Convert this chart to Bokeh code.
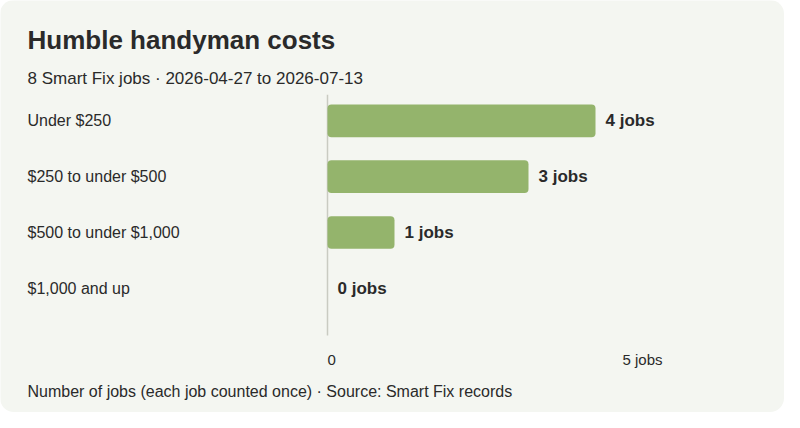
from bokeh.plotting import figure
from bokeh.models import Range1d, ColumnDataSource
from bokeh.core.properties import value
from bokeh.embed import file_html
from bokeh.resources import INLINE

# ---- data ----
categories = ["Under $250", "$250 to under $500", "$500 to under $1,000", "$1,000 and up"]
jobs = [4, 3, 1, 0]
value_labels = [f"{j} jobs" for j in jobs]
tick_values = [0, 5]
tick_labels = ["0", "5 jobs"]
title_text = "Humble handyman costs"
subtitle_text = "8 Smart Fix jobs \u00b7 2026-04-27 to 2026-07-13"
footer_text = "Number of jobs (each job counted once) \u00b7 Source: Smart Fix records"

# ---- layout (pixels in figure space) ----
W, H = 784, 412
SY = H / 428.0       # vertical compression to fit the window
X0_PX = 327          # pixel of value 0
PX_PER_JOB = 67
ROW0_PX = 125 * SY   # pixel (from top) of first category centre
ROW_PX = 58 * SY
LEFT_PX = 27

BG = "#f4f6f1"
BAR = "#94b46c"
INK = "#2a2a2a"
AXIS = "#c9cbc2"
FONT = "Liberation Sans"

def xd(px):
    return (px - X0_PX) / PX_PER_JOB

def yd(px_ref):
    return (px_ref * SY - ROW0_PX) / ROW_PX

p = figure(width=W, height=H, output_backend="svg", toolbar_location=None,
           x_range=Range1d(xd(0), xd(W)), y_range=Range1d(yd(428), yd(0)),
           min_border=0, min_border_left=0, min_border_right=0,
           min_border_top=0, min_border_bottom=0,
           background_fill_color=BG, border_fill_color=BG,
           outline_line_color=None)
p.styles = {"border-radius": "14px", "overflow": "hidden"}
p.grid.visible = False
p.xaxis.visible = False
p.yaxis.visible = False

idx = list(range(len(categories)))
src = ColumnDataSource(dict(idx=idx, cat=categories, jobs=jobs, lab=value_labels,
                            xl=[xd(LEFT_PX)] * len(idx)))

# zero line
p.segment(x0=0, y0=yd(98), x1=0, y1=yd(348), line_color=AXIS, line_width=1.5)

# bars
p.hbar(y="idx", left=0, right="jobs", height=34 / 58, source=src,
       fill_color=BAR, line_color=None, border_radius=4)

# value labels
p.text(x="jobs", y="idx", text="lab", source=src, x_offset=10,
       text_align="left", text_baseline="middle", text_color=INK,
       text_font=value(FONT), text_font_style="bold", text_font_size="17px")

# category labels
p.text(x="xl", y="idx", text="cat", source=src,
       text_align="left", text_baseline="middle", text_color=INK,
       text_font=value(FONT), text_font_size="16px")

# tick labels
p.text(x=[tick_values[0]], y=[yd(373)], text=[tick_labels[0]], text_align="left",
       text_baseline="alphabetic", text_color=INK, text_font=value(FONT),
       text_font_size="15px")
p.text(x=[tick_values[1]], y=[yd(373)], text=[tick_labels[1]], text_align="right",
       text_baseline="alphabetic", text_color=INK, text_font=value(FONT),
       text_font_size="15px")

# title, subtitle, footer
p.text(x=[xd(LEFT_PX)], y=[yd(41.5)], text=[title_text], text_align="left",
       text_baseline="alphabetic", text_color=INK, text_font=value(FONT),
       text_font_style="bold", text_font_size="26px")
p.text(x=[xd(LEFT_PX)], y=[yd(81.5)], text=[subtitle_text], text_align="left",
       text_baseline="alphabetic", text_color=INK, text_font=value(FONT),
       text_font_size="17px")
p.text(x=[xd(LEFT_PX)], y=[yd(406.5)], text=[footer_text], text_align="left",
       text_baseline="alphabetic", text_color=INK, text_font=value(FONT),
       text_font_size="16px")

open("out.html", "w").write(file_html(p, INLINE))
